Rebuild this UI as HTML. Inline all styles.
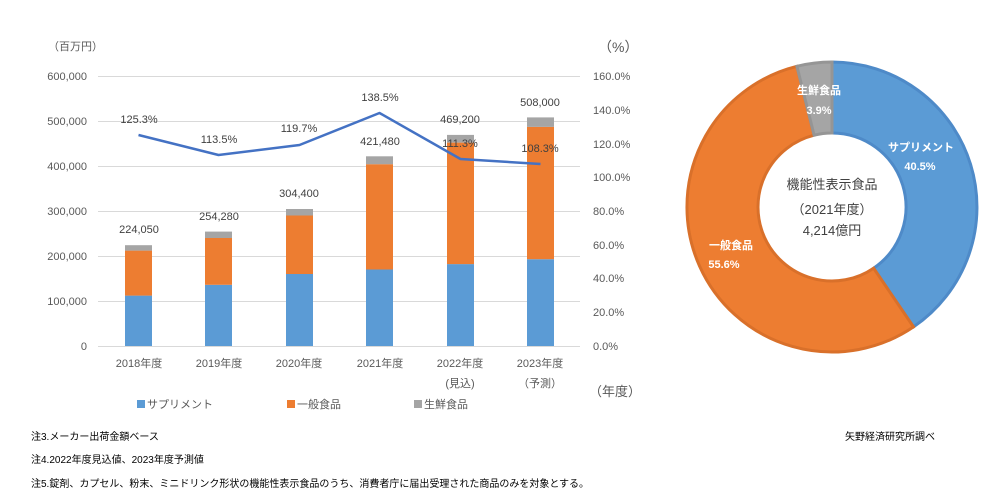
<!DOCTYPE html>
<html><head><meta charset="utf-8"><style>
body{margin:0;background:#fff;}
svg text{font-family:"Liberation Sans","Noto Sans CJK JP",sans-serif;}
</style></head><body>
<svg width="989" height="499" viewBox="0 0 989 499" xmlns="http://www.w3.org/2000/svg">
<g font-size="11" fill="#595959">
<text x="48" y="50">（百万円）</text>
<text x="598" y="52" font-size="14">（%）</text>
</g>
<g stroke="#d9d9d9" stroke-width="1">
<line x1="98" y1="76.5" x2="580" y2="76.5"/>
<line x1="98" y1="121.5" x2="580" y2="121.5"/>
<line x1="98" y1="166.5" x2="580" y2="166.5"/>
<line x1="98" y1="211.5" x2="580" y2="211.5"/>
<line x1="98" y1="256.5" x2="580" y2="256.5"/>
<line x1="98" y1="301.5" x2="580" y2="301.5"/>
<line x1="98" y1="346.5" x2="580" y2="346.5"/>
</g>
<g font-size="11" fill="#595959" text-anchor="end">
<text x="87" y="80">600,000</text><text x="87" y="125">500,000</text><text x="87" y="170">400,000</text>
<text x="87" y="215">300,000</text><text x="87" y="260">200,000</text><text x="87" y="305">100,000</text><text x="87" y="350">0</text>
</g>
<g font-size="11" fill="#595959">
<text x="593" y="80">160.0%</text><text x="593" y="114">140.0%</text><text x="593" y="148">120.0%</text>
<text x="593" y="181">100.0%</text><text x="593" y="215">80.0%</text><text x="593" y="249">60.0%</text>
<text x="593" y="282">40.0%</text><text x="593" y="316">20.0%</text><text x="593" y="350">0.0%</text>
</g>
<g>
<rect x="125" y="295.6" width="27" height="50.4" fill="#5b9bd5"/><rect x="125" y="250.6" width="27" height="45" fill="#ed7d31"/><rect x="125" y="245.2" width="27" height="5.4" fill="#a5a5a5"/>
<rect x="205" y="284.8" width="27" height="61.2" fill="#5b9bd5"/><rect x="205" y="238" width="27" height="46.8" fill="#ed7d31"/><rect x="205" y="231.6" width="27" height="6.4" fill="#a5a5a5"/>
<rect x="286" y="274" width="27" height="72" fill="#5b9bd5"/><rect x="286" y="215.5" width="27" height="58.5" fill="#ed7d31"/><rect x="286" y="209" width="27" height="6.5" fill="#a5a5a5"/>
<rect x="366" y="269.5" width="27" height="76.5" fill="#5b9bd5"/><rect x="366" y="164.2" width="27" height="105.3" fill="#ed7d31"/><rect x="366" y="156.3" width="27" height="7.9" fill="#a5a5a5"/>
<rect x="447" y="264.1" width="27" height="81.9" fill="#5b9bd5"/><rect x="447" y="142.6" width="27" height="121.5" fill="#ed7d31"/><rect x="447" y="134.9" width="27" height="7.7" fill="#a5a5a5"/>
<rect x="527" y="259.2" width="27" height="86.8" fill="#5b9bd5"/><rect x="527" y="126.9" width="27" height="132.3" fill="#ed7d31"/><rect x="527" y="117.4" width="27" height="9.5" fill="#a5a5a5"/>
</g>
<polyline points="138.5,135 218.5,155 299.5,145 379.5,113 460.5,159 540.5,164" fill="none" stroke="#4472c4" stroke-width="2.5" stroke-linejoin="round"/>
<g font-size="11" fill="#404040" text-anchor="middle">
<text x="139" y="233">224,050</text><text x="219" y="220">254,280</text><text x="299" y="197">304,400</text>
<text x="380" y="145">421,480</text><text x="460" y="123">469,200</text><text x="540" y="106">508,000</text>
<text x="139" y="123">125.3%</text><text x="219" y="143">113.5%</text><text x="299" y="132">119.7%</text>
<text x="380" y="101">138.5%</text><text x="460" y="147">111.3%</text><text x="540" y="152">108.3%</text>
</g>
<g font-size="11" fill="#595959" text-anchor="middle">
<text x="139" y="367">2018年度</text><text x="219" y="367">2019年度</text><text x="299" y="367">2020年度</text>
<text x="380" y="367">2021年度</text><text x="460" y="367">2022年度</text><text x="540" y="367">2023年度</text>
<text x="460" y="387">(見込)</text><text x="540" y="387">（予測）</text>
</g>
<text x="589" y="396" font-size="13" fill="#595959">（年度）</text>
<g font-size="11" fill="#595959">
<rect x="137" y="400" width="8" height="8" fill="#5b9bd5"/><text x="147" y="408">サプリメント</text>
<rect x="287" y="400" width="8" height="8" fill="#ed7d31"/><text x="297" y="408">一般食品</text>
<rect x="414" y="400" width="8" height="8" fill="#a5a5a5"/><text x="424" y="408">生鮮食品</text>
</g>
<path d="M832,62 A145,145 0 0 1 913.5,326.9 L873.6,268.2 A74,74 0 0 0 832,133 Z" fill="#5b9bd5" stroke="#4e8ac8" stroke-width="3"/>
<path d="M913.5,326.9 A145,145 0 1 1 796.9,66.3 L814.1,135.2 A74,74 0 1 0 873.6,268.2 Z" fill="#ed7d31" stroke="#d9702a" stroke-width="3"/>
<path d="M796.9,66.3 A145,145 0 0 1 832,62 L832,133 A74,74 0 0 0 814.1,135.2 Z" fill="#a5a5a5" stroke="#959595" stroke-width="3"/>
<g font-size="11" font-weight="bold" fill="#fff" text-anchor="middle">
<text x="819" y="94">生鮮食品</text><text x="819" y="114">3.9%</text>
<text x="921" y="151">サプリメント</text><text x="920" y="170">40.5%</text>
<text x="731" y="249">一般食品</text><text x="724" y="268">55.6%</text>
</g>
<g font-size="13" fill="#404040" text-anchor="middle">
<text x="832" y="189">機能性表示食品</text>
<text x="832" y="214">（2021年度）</text>
<text x="832" y="235">4,214億円</text>
</g>
<g font-size="10" fill="#000">
<text x="31" y="440">注3.メーカー出荷金額ベース</text>
<text x="31" y="463">注4.2022年度見込値、2023年度予測値</text>
<text x="31" y="487">注5.錠剤、カプセル、粉末、ミニドリンク形状の機能性表示食品のうち、消費者庁に届出受理された商品のみを対象とする。</text>
<text x="845" y="440">矢野経済研究所調べ</text>
</g>
</svg>
</body></html>
